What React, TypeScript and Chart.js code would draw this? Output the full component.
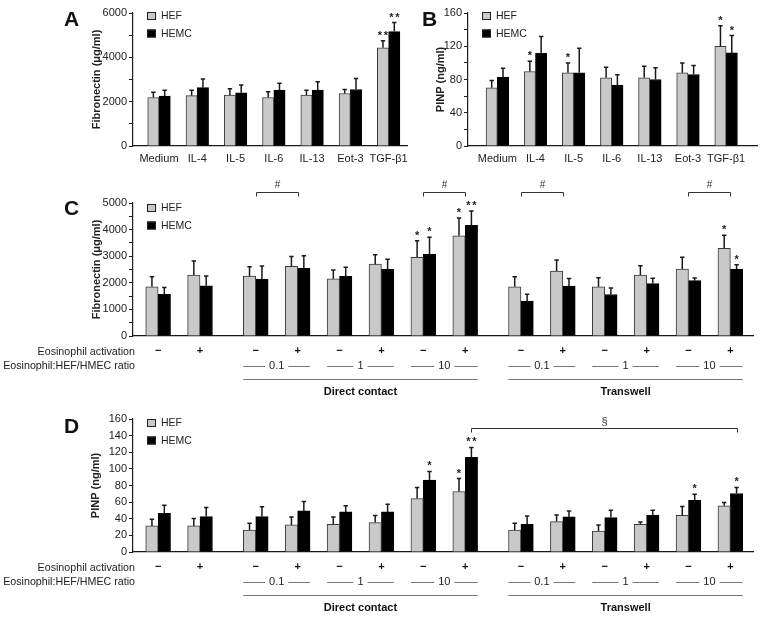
import React, { useEffect, useRef } from 'react';
import { Chart, registerables } from 'chart.js';

Chart.register(...registerables);

const FONT = '"Liberation Sans", Arial, Helvetica, sans-serif';
const PAGE_W = 762;
const PAGE_H = 617;
const GRAY = '#c9c9c9';
const INK = '#1a1a1a';

// ---------------- Panel A & B data ----------------
const stimuli = ['Medium', 'IL-4', 'IL-5', 'IL-6', 'IL-13', 'Eot-3', 'TGF-β1'];

const aHEF = [2190, 2270, 2300, 2190, 2300, 2370, 4430];
const aHEFsd = [230, 240, 280, 260, 220, 180, 320];
const aHEMC = [2250, 2630, 2400, 2520, 2520, 2550, 5160];
const aHEMCsd = [270, 390, 350, 310, 380, 500, 410];
const aHEFstars = ['', '', '', '', '', '', '**'];
const aHEMCstars = ['', '', '', '', '', '', '**'];

const bHEF = [70, 89.6, 88, 82, 82, 88, 120];
const bHEFsd = [8.8, 12.4, 12, 12.8, 14, 12, 24.8];
const bHEMC = [82.8, 111.6, 88, 73.2, 80, 86, 112];
const bHEMCsd = [10.8, 20, 29.6, 12.4, 14, 10.8, 20.8];
const bHEFstars = ['', '*', '*', '', '', '', '*'];
const bHEMCstars = ['', '', '', '', '', '', '*'];

// ---------------- Panel C & D data ----------------
const groupSizes = [2, 6, 6];
const activation = ['−', '+', '−', '+', '−', '+', '−', '+', '−', '+', '−', '+', '−', '+'];
const ratioLabels = ['0.1', '1', '10'];
const contactGroups = ['Direct contact', 'Transwell'];
const rowLabelActivation = 'Eosinophil activation';
const rowLabelRatio = 'Eosinophil:HEF/HMEC ratio';

const cHEF = [1850, 2290, 2250, 2620, 2150, 2700, 2960, 3770, 1850, 2440, 1850, 2290, 2520, 3300];
const cHEFsd = [380, 530, 350, 370, 330, 350, 620, 670, 380, 420, 340, 350, 440, 490];
const cHEMC = [1570, 1890, 2140, 2540, 2240, 2510, 3070, 4160, 1310, 1880, 1560, 1970, 2080, 2520];
const cHEMCsd = [250, 370, 490, 480, 340, 380, 640, 540, 260, 280, 240, 200, 100, 160];
const cHEFstars = ['', '', '', '', '', '', '*', '*', '', '', '', '', '', '*'];
const cHEMCstars = ['', '', '', '', '', '', '*', '**', '', '', '', '', '', '*'];
const cBrackets = [
  { from: 2, to: 3, label: '#' },
  { from: 6, to: 7, label: '#' },
  { from: 8, to: 9, label: '#' },
  { from: 12, to: 13, label: '#' },
];

const dHEF = [31.4, 31.4, 26.5, 32.6, 33.4, 35.4, 64.3, 72.8, 26.5, 36.6, 25.3, 33.4, 44.2, 55.5];
const dHEFsd = [8, 8.8, 8.1, 9.6, 8.8, 8.4, 13.3, 15.6, 8.1, 8, 7.3, 2.8, 10.5, 4];
const dHEMC = [46.6, 42.6, 42.6, 49.4, 48.2, 48.2, 86.4, 113.8, 33.4, 42.2, 41.4, 44.2, 62.3, 70.4];
const dHEMCsd = [9.7, 10.9, 11.7, 11.3, 7.3, 9.3, 10.5, 12, 10, 7.2, 8.9, 6.1, 7.2, 7.2];
const dHEFstars = ['', '', '', '', '', '', '', '*', '', '', '', '', '', ''];
const dHEMCstars = ['', '', '', '', '', '', '*', '**', '', '', '', '', '*', '*'];
const dBrackets = [{ from: 7, to: 13, label: '§' }];

// ---------------- layout helpers ----------------
function groupedPositions(sizes: number[], gap: number): number[] {
  const out: number[] = [];
  let p = 0;
  sizes.forEach((n, g) => {
    if (g > 0) p += gap;
    for (let i = 0; i < n; i++) {
      out.push(p);
      p += 1;
    }
  });
  return out;
}
const simplePositions = stimuli.map((_, i) => i);
const cdPositions = groupedPositions(groupSizes, 0.33);

type Spec = {
  id: string;
  letter: string;
  letterX: number;
  letterY: number;
  area: { left: number; top: number; right: number; bottom: number };
  xMin: number;
  xMax: number;
  positions: number[];
  categories?: string[];
  barThickness: number;
  yMax: number;
  yStep: number;
  yLabelEvery: number;
  yTitle: string;
  titleDx: number;
  legendDy: number;
  hef: number[];
  hefSd: number[];
  hemc: number[];
  hemcSd: number[];
  hefStars: string[];
  hemcStars: string[];
  brackets?: { from: number; to: number; label: string }[];
  bracketLevel?: number;
  bracketAnchor?: 'pair' | 'hemc';
  rows?: boolean;
};

const specs: Spec[] = [
  {
    id: 'A', letter: 'A', letterX: 64, letterY: 26,
    area: { left: 133, top: 13, right: 407, bottom: 146 },
    xMin: -0.68, xMax: 6.48, positions: simplePositions, categories: stimuli, barThickness: 11.3,
    yMax: 6000, yStep: 1000, yLabelEvery: 2000, yTitle: 'Fibronectin (μg/ml)', titleDx: -36, legendDy: 3,
    hef: aHEF, hefSd: aHEFsd, hemc: aHEMC, hemcSd: aHEMCsd, hefStars: aHEFstars, hemcStars: aHEMCstars,
  },
  {
    id: 'B', letter: 'B', letterX: 422, letterY: 26,
    area: { left: 468, top: 13, right: 757, bottom: 146 },
    xMin: -0.77, xMax: 6.81, positions: simplePositions, categories: stimuli, barThickness: 11.3,
    yMax: 160, yStep: 20, yLabelEvery: 40, yTitle: 'PINP (ng/ml)', titleDx: -27, legendDy: 3,
    hef: bHEF, hefSd: bHEFsd, hemc: bHEMC, hemcSd: bHEMCsd, hefStars: bHEFstars, hemcStars: bHEMCstars,
  },
  {
    id: 'C', letter: 'C', letterX: 64, letterY: 215,
    area: { left: 133, top: 203, right: 753, bottom: 336 },
    xMin: -0.6, xMax: 14.2, positions: cdPositions, barThickness: 12.4,
    yMax: 5000, yStep: 500, yLabelEvery: 1000, yTitle: 'Fibronectin (μg/ml)', titleDx: -36, legendDy: 5,
    hef: cHEF, hefSd: cHEFsd, hemc: cHEMC, hemcSd: cHEMCsd, hefStars: cHEFstars, hemcStars: cHEMCstars,
    brackets: cBrackets, bracketLevel: 5400, bracketAnchor: 'pair', rows: true,
  },
  {
    id: 'D', letter: 'D', letterX: 64, letterY: 433,
    area: { left: 133, top: 419, right: 753, bottom: 552 },
    xMin: -0.6, xMax: 14.2, positions: cdPositions, barThickness: 12.4,
    yMax: 160, yStep: 20, yLabelEvery: 20, yTitle: 'PINP (ng/ml)', titleDx: -37, legendDy: 4,
    hef: dHEF, hefSd: dHEFsd, hemc: dHEMC, hemcSd: dHEMCsd, hefStars: dHEFstars, hemcStars: dHEMCstars,
    brackets: dBrackets, bracketLevel: 149, bracketAnchor: 'hemc', rows: true,
  },
];

const font = (size: number, bold = false) => `${bold ? 'bold ' : ''}${size}px ${FONT}`;

function makePlugin(spec: Spec) {
  return {
    id: 'annot' + spec.id,
    afterDraw(chart: any) {
      const ctx: CanvasRenderingContext2D = chart.ctx;
      const { left, top, bottom } = chart.chartArea;
      const ys = chart.scales.y;
      const mHEF = chart.getDatasetMeta(0);
      const mHEMC = chart.getDatasetMeta(1);
      ctx.save();

      // error bars and significance stars
      const series: [any, number[], number[], string[]][] = [
        [mHEF, spec.hef, spec.hefSd, spec.hefStars],
        [mHEMC, spec.hemc, spec.hemcSd, spec.hemcStars],
      ];
      series.forEach(([meta, vals, sd, stars]) => {
        meta.data.forEach((el: any, i: number) => {
          const x = el.x;
          const yb = el.y;
          const ye = ys.getPixelForValue(vals[i] + sd[i]);
          ctx.strokeStyle = INK;
          ctx.lineWidth = 1.5;
          ctx.beginPath();
          ctx.moveTo(x, yb);
          ctx.lineTo(x, ye);
          ctx.moveTo(x - 2.2, ye);
          ctx.lineTo(x + 2.2, ye);
          ctx.stroke();
          const s = stars[i];
          if (s) {
            ctx.fillStyle = '#222';
            ctx.font = font(11, true);
            ctx.textAlign = 'center';
            ctx.textBaseline = 'alphabetic';
            if (s.length === 1) {
              ctx.fillText('*', x, ye - 2);
            } else {
              ctx.fillText('*', x - 3, ye - 2);
              ctx.fillText('*', x + 3, ye - 2);
            }
          }
        });
      });

      // brackets
      if (spec.brackets) {
        const anchorX = (i: number) =>
          spec.bracketAnchor === 'hemc' ? mHEMC.data[i].x : (mHEF.data[i].x + mHEMC.data[i].x) / 2;
        const y = Math.round(ys.getPixelForValue(spec.bracketLevel as number)) + 0.5;
        spec.brackets.forEach((b) => {
          const xa = Math.round(anchorX(b.from)) + 0.5;
          const xb = Math.round(anchorX(b.to)) + 0.5;
          ctx.strokeStyle = '#333';
          ctx.lineWidth = 1;
          ctx.beginPath();
          ctx.moveTo(xa, y + 4);
          ctx.lineTo(xa, y);
          ctx.lineTo(xb, y);
          ctx.lineTo(xb, y + 4);
          ctx.stroke();
          ctx.fillStyle = '#333';
          ctx.font = font(b.label === '#' ? 10 : 11);
          ctx.textAlign = 'center';
          ctx.textBaseline = 'middle';
          ctx.fillText(b.label, (xa + xb) / 2, y - 7);
        });
      }

      // legend
      const lx = left + 14;
      ['HEF', 'HEMC'].forEach((name, k) => {
        const cy = top + spec.legendDy + k * 17.5;
        ctx.fillStyle = k === 0 ? GRAY : '#000';
        ctx.fillRect(lx, cy - 4, 9, 8);
        ctx.strokeStyle = '#222';
        ctx.lineWidth = 1;
        ctx.strokeRect(lx + 0.5, cy - 3.5, 8, 7);
        ctx.fillStyle = '#222';
        ctx.font = font(10.5);
        ctx.textAlign = 'left';
        ctx.textBaseline = 'middle';
        ctx.fillText(name, lx + 14, cy + 0.5);
      });

      // panel letter
      ctx.fillStyle = '#111';
      ctx.font = font(21, true);
      ctx.textAlign = 'left';
      ctx.textBaseline = 'alphabetic';
      ctx.fillText(spec.letter, spec.letterX, spec.letterY);

      // y axis title
      ctx.save();
      ctx.translate(left + spec.titleDx, (top + bottom) / 2);
      ctx.rotate(-Math.PI / 2);
      ctx.font = font(11, true);
      ctx.textAlign = 'center';
      ctx.textBaseline = 'middle';
      ctx.fillStyle = '#222';
      ctx.fillText(spec.yTitle, 0, 0);
      ctx.restore();

      // rows under C / D
      if (spec.rows) {
        const bw = spec.barThickness;
        const pairX = (i: number) => (mHEF.data[i].x + mHEMC.data[i].x) / 2;
        ctx.fillStyle = '#111';
        ctx.textBaseline = 'middle';
        ctx.textAlign = 'center';
        ctx.font = font(11, true);
        activation.forEach((s, i) => ctx.fillText(s, pairX(i), bottom + 15));

        ctx.fillStyle = '#222';
        ctx.font = font(10.7);
        ctx.textAlign = 'right';
        ctx.fillText(rowLabelActivation, left + 2, bottom + 16);
        ctx.fillText(rowLabelRatio, left + 2, bottom + 30);

        let start = groupSizes[0];
        contactGroups.forEach((name, g) => {
          const n = groupSizes[g + 1];
          ctx.strokeStyle = '#777';
          ctx.lineWidth = 1;
          ratioLabels.forEach((r, k) => {
            const i0 = start + 2 * k;
            const x0 = pairX(i0) - bw;
            const x1 = pairX(i0 + 1) + bw;
            const mid = (x0 + x1) / 2;
            ctx.font = font(11);
            const tw = ctx.measureText(r).width;
            const yy = Math.round(bottom + 30) + 0.5;
            ctx.beginPath();
            ctx.moveTo(x0, yy);
            ctx.lineTo(mid - tw / 2 - 4, yy);
            ctx.moveTo(mid + tw / 2 + 4, yy);
            ctx.lineTo(x1, yy);
            ctx.stroke();
            ctx.fillStyle = '#222';
            ctx.textAlign = 'center';
            ctx.fillText(r, mid, bottom + 30);
          });
          const gx0 = pairX(start) - bw;
          const gx1 = pairX(start + n - 1) + bw;
          const uy = Math.round(bottom + 43) + 0.5;
          ctx.beginPath();
          ctx.moveTo(gx0, uy);
          ctx.lineTo(gx1, uy);
          ctx.stroke();
          ctx.fillStyle = '#111';
          ctx.font = font(11, true);
          ctx.textAlign = 'center';
          ctx.fillText(name, (gx0 + gx1) / 2, bottom + 56);
          start += n;
        });
      }
      ctx.restore();
    },
  };
}

function Panel({ spec }: { spec: Spec }) {
  const ref = useRef<HTMLCanvasElement | null>(null);
  useEffect(() => {
    if (!ref.current) return;
    const yW = 40;
    const xH = spec.categories ? 20 : 0;
    const padding = {
      left: spec.area.left - yW,
      top: spec.area.top,
      right: PAGE_W - spec.area.right,
      bottom: PAGE_H - spec.area.bottom - xH,
    };
    const pts = (vals: number[]) => vals.map((v, i) => ({ x: spec.positions[i], y: v }));
    const chart = new Chart(ref.current, {
      type: 'bar',
      data: {
        datasets: [
          {
            label: 'HEF',
            data: pts(spec.hef) as any,
            backgroundColor: GRAY,
            borderColor: '#3a3a3a',
            borderWidth: 1,
            barThickness: spec.barThickness,
          },
          {
            label: 'HEMC',
            data: pts(spec.hemc) as any,
            backgroundColor: '#000',
            borderColor: '#000',
            borderWidth: 1,
            barThickness: spec.barThickness,
          },
        ],
      },
      options: {
        animation: false,
        responsive: false,
        maintainAspectRatio: false,
        layout: { padding },
        plugins: { legend: { display: false }, tooltip: { enabled: false } },
        scales: {
          x: {
            type: 'linear',
            min: spec.xMin,
            max: spec.xMax,
            offset: false,
            grid: { display: false, drawTicks: false },
            border: { display: true, color: INK, width: 1.2 },
            afterBuildTicks: (axis: any) => {
              axis.ticks = spec.positions.map((v) => ({ value: v }));
            },
            afterFit: (s: any) => {
              s.height = xH;
            },
            ticks: spec.categories
              ? {
                  display: true,
                  autoSkip: false,
                  maxRotation: 0,
                  minRotation: 0,
                  padding: 6,
                  color: '#222',
                  font: { family: FONT, size: 11 },
                  callback: (_v: any, i: number) => (spec.categories as string[])[i],
                }
              : { display: false },
          },
          y: {
            min: 0,
            max: spec.yMax,
            grid: { display: true, drawOnChartArea: false, drawTicks: true, tickLength: 4, color: INK, tickColor: INK },
            border: { display: true, color: INK, width: 1.2 },
            ticks: {
              stepSize: spec.yStep,
              autoSkip: false,
              padding: 2,
              color: '#222',
              font: { family: FONT, size: 11 },
              callback: (v: any) => (Math.round(v) % spec.yLabelEvery === 0 ? String(v) : ''),
            },
            afterFit: (s: any) => {
              s.width = yW;
            },
          },
        },
      } as any,
      plugins: [makePlugin(spec)],
    });
    return () => chart.destroy();
  }, [spec]);
  return (
    <canvas
      ref={ref}
      width={PAGE_W}
      height={PAGE_H}
      style={{ position: 'absolute', left: 0, top: 0, width: PAGE_W, height: PAGE_H }}
    />
  );
}

export default function App() {
  return (
    <div
      style={{
        position: 'absolute',
        left: 0,
        top: 0,
        width: PAGE_W,
        height: PAGE_H,
        background: '#fff',
        overflow: 'hidden',
      }}
    >
      {specs.map((s) => (
        <Panel key={s.id} spec={s} />
      ))}
    </div>
  );
}
